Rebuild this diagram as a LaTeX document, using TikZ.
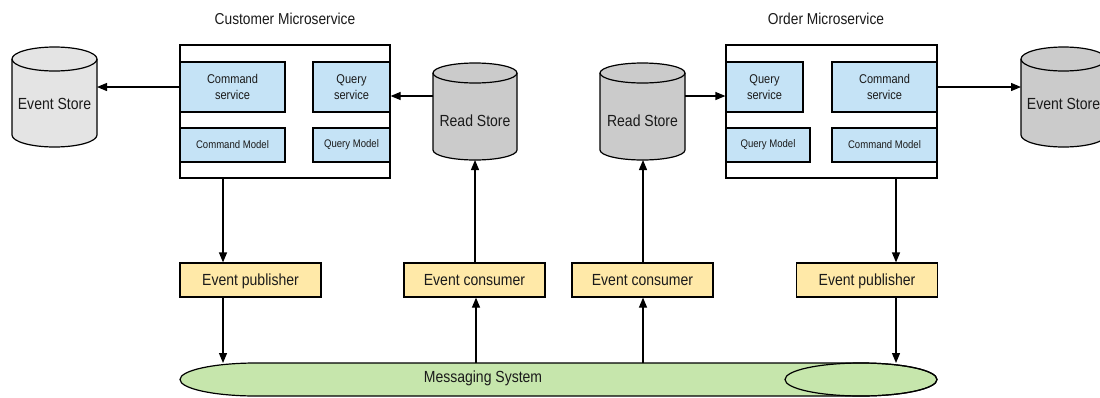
\documentclass[tikz,border=0pt]{standalone}
\usepackage{fontspec}
\setmainfont{Liberation Sans}[FakeStretch=0.87]
\usetikzlibrary{arrows.meta}
\definecolor{svcblue}{HTML}{C5E3F6}
\definecolor{pubyellow}{HTML}{FFE9A8}
\definecolor{msgreen}{HTML}{C6E6AC}
\definecolor{esgray}{HTML}{E4E4E4}
\definecolor{rsgray}{HTML}{CBCBCB}
\definecolor{txt}{HTML}{1A1A1A}
\newcommand\vcyl[6]{%
  \path[cylline, fill=#6] (#1-#4,#2+#5) -- (#1-#4,#3-#5)
    arc[start angle=180,end angle=360,x radius=#4pt,y radius=#5pt]
    -- (#1+#4,#2+#5)
    arc[start angle=0,end angle=180,x radius=#4pt,y radius=#5pt] -- cycle;
  \draw[cylline] (#1-#4,#2+#5) arc[start angle=180,end angle=360,x radius=#4pt,y radius=#5pt];
}
\begin{document}
\begin{tikzpicture}[x=1pt,y=-1pt,
  cylline/.style={draw=black, line width=1.2pt},
  anchorbox/.style={draw=none, inner sep=0pt, outer sep=0pt},
  lbl/.style={inner sep=0pt, text=txt, font=\fontsize{16.1}{18}\selectfont},
  ttl/.style={inner sep=0pt, text=txt, font=\fontsize{15.8}{18}\selectfont},
  frame/.style={draw=black, fill=white, line width=1.2pt, inner sep=0pt},
  svc/.style={draw=black, fill=svcblue, line width=1.2pt, inner sep=0pt, text=txt, align=center, font=\fontsize{12.7}{15.5}\selectfont},
  mdl/.style={svc, font=\fontsize{11}{12}\selectfont},
  evt/.style={draw=black, fill=pubyellow, line width=1.2pt, inner sep=0pt, text=txt, font=\fontsize{16.1}{18}\selectfont, text height=13pt, text depth=1.5pt, minimum width=141pt, minimum height=34pt},
  arr/.style={-{Triangle[length=10pt,width=8pt]}, line width=1.2pt, draw=black}
]
\useasboundingbox (0,0) rectangle (1100,397);

% titles
\node[ttl] (custT) at (285,18.5) {Customer Microservice};
\node[ttl] (ordT) at (826,18.5) {Order Microservice};

% customer microservice
\node[frame, minimum width=210pt, minimum height=133pt] (cust) at (285,111.5) {};
\node[svc, minimum width=105pt, minimum height=50pt] (csL) at (232.5,87) {Command\\service};
\node[svc, minimum width=77pt, minimum height=50pt] (qsL) at (351.5,87) {Query\\service};
\node[mdl, minimum width=105pt, minimum height=34pt] (cmL) at (232.5,145) {Command Model};
\node[mdl, minimum width=77pt, minimum height=34pt] (qmL) at (351.5,145) {Query Model};

% order microservice
\node[frame, minimum width=211pt, minimum height=133pt] (ord) at (831.5,111.5) {};
\node[svc, minimum width=77pt, minimum height=50pt] (qsR) at (764.5,87) {Query\\service};
\node[svc, minimum width=105pt, minimum height=50pt] (csR) at (884.5,87) {Command\\service};
\node[mdl, minimum width=84pt, minimum height=34pt] (qmR) at (768,145) {Query Model};
\node[mdl, minimum width=105pt, minimum height=34pt] (cmR) at (884.5,145) {Command Model};

% stores
\vcyl{54.5}{47}{147}{42.5}{12}{esgray}
\node[anchorbox, minimum width=85pt, minimum height=100pt] (esL) at (54.5,97) {};
\node[lbl] (esLt) at (54.5,103.5) {Event Store};

\vcyl{475}{63}{160}{42}{10}{rsgray}
\node[anchorbox, minimum width=84pt, minimum height=97pt] (rsL) at (475,111.5) {};
\node[lbl] (rsLt) at (475,120.5) {Read Store};

\vcyl{642.5}{63}{160}{42.5}{10}{rsgray}
\node[anchorbox, minimum width=85pt, minimum height=97pt] (rsR) at (642.5,111.5) {};
\node[lbl] (rsRt) at (642.5,120.5) {Read Store};

\vcyl{1063.5}{47}{147}{42.5}{12}{rsgray}
\node[anchorbox, minimum width=85pt, minimum height=100pt] (esR) at (1063.5,97) {};
\node[lbl] (esRt) at (1063.5,103.5) {Event Store};

% event publishers / consumers
\node[evt] (pubL) at (250.5,280) {Event publisher};
\node[evt] (conL) at (474.5,280) {Event consumer};
\node[evt] (conR) at (642.5,280) {Event consumer};
\node[evt] (pubR) at (867,280) {Event publisher};

% messaging system
\path[cylline, fill=msgreen] (256,363) -- (861,363)
  arc[start angle=90,end angle=-90,x radius=76pt,y radius=16.5pt]
  -- (256,396)
  arc[start angle=270,end angle=90,x radius=76pt,y radius=16.5pt] -- cycle;
\draw[cylline] (861,379.5) ellipse [x radius=76pt, y radius=16.5pt];
\node[anchorbox, minimum width=757pt, minimum height=33pt] (ms) at (558.5,379.5) {};
\node[lbl] (mst) at (483,378.5) {Messaging System};

% connectors
\draw[arr] (csL.west) -- (esL.east |- csL.west);
\draw[arr] (rsL.west |- 0,96) -- (qsL.east |- 0,96);
\draw[arr] (rsR.east |- 0,96) -- (qsR.west |- 0,96);
\draw[arr] (csR.east) -- (esR.west |- csR.east);

\draw[arr] (cust.south -| 223,0) -- (pubL.north -| 223,0);
\draw[arr] (pubL.south -| 223,0) -- (ms.north -| 223,0);
\draw[arr] (ms.north -| 476,0) -- (conL.south -| 476,0);
\draw[arr] (conL.north -| 475,0) -- (rsL.south -| 475,0);
\draw[arr] (ms.north -| 643,0) -- (conR.south -| 643,0);
\draw[arr] (conR.north -| 643,0) -- (rsR.south -| 643,0);
\draw[arr] (ord.south -| 896,0) -- (pubR.north -| 896,0);
\draw[arr] (pubR.south -| 896,0) -- (ms.north -| 896,0);
\end{tikzpicture}
\end{document}
